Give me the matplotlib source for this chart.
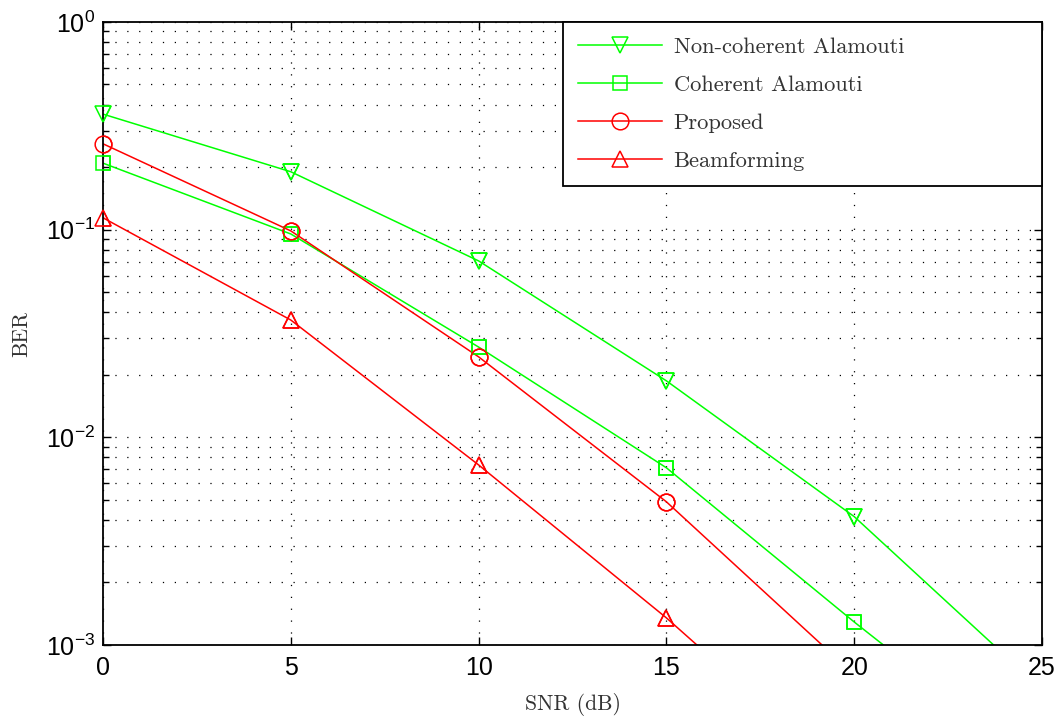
import numpy as np
import matplotlib
matplotlib.use("Agg")
import matplotlib.pyplot as plt
from matplotlib.ticker import LogLocator, LogFormatterMathtext, NullFormatter, FixedLocator

plt.rcParams['font.family'] = ['Liberation Sans', 'DejaVu Sans']
plt.rcParams['mathtext.fontset'] = 'custom'
plt.rcParams['mathtext.rm'] = 'Liberation Sans'
plt.rcParams['mathtext.it'] = 'Liberation Sans:italic'
plt.rcParams['mathtext.bf'] = 'Liberation Sans:bold'
plt.rcParams['axes.unicode_minus'] = False

# BER curves versus SNR
snr = [0, 5, 10, 15, 20, 25]
ber_noncoherent = [0.36, 0.19, 0.0707, 0.0187, 0.00415, 0.00061]
ber_coherent = [0.209, 0.0953, 0.0272, 0.00713, 0.00129, 0.00025]
snr_short = [0, 5, 10, 15, 20]
ber_proposed = [0.259, 0.0986, 0.0244, 0.00489, 0.00072]
ber_beamforming = [0.114, 0.0367, 0.00736, 0.00135, 0.000212]

labels = ["Non-coherent Alamouti", "Coherent Alamouti", "Proposed", "Beamforming"]
xticks = [0, 5, 10, 15, 20, 25]
ymin, ymax = 1e-3, 1

fig = plt.figure(figsize=(10.58, 7.16), dpi=100)
ax = fig.add_axes([0.0974, 0.0992, 0.8875, 0.8701])

green = (0, 1, 0)
red = (1, 0, 0)
series = [
    (snr, ber_noncoherent, green, 'v', 12),
    (snr, ber_coherent, green, 's', 10.5),
    (snr_short, ber_proposed, red, 'o', 12),
    (snr_short, ber_beamforming, red, '^', 12),
]
for (x, y, c, m, ms), lab in zip(series, labels):
    ax.plot(x, y, color=c, marker=m, markersize=ms, markerfacecolor='none',
            linewidth=1.1, markeredgewidth=1.1, label=lab)
    # markers inside the y-range stay whole at the axes edge
    xs = [a for a, b in zip(x, y) if ymin <= b <= ymax]
    ys = [b for b in y if ymin <= b <= ymax]
    ax.plot(xs, ys, linestyle='none', marker=m, markersize=ms, markerfacecolor='none',
            markeredgecolor=c, markeredgewidth=1.1, clip_on=False, zorder=3)

ax.set_yscale('log')
ax.set_xlim(0, 25)
ax.set_ylim(ymin, ymax)
ax.xaxis.set_major_locator(FixedLocator(xticks))
ax.yaxis.set_major_locator(LogLocator(base=10, numticks=10))
ax.yaxis.set_major_formatter(LogFormatterMathtext())
ax.yaxis.set_minor_locator(LogLocator(base=10, subs=np.arange(2, 10), numticks=20))
ax.yaxis.set_minor_formatter(NullFormatter())

dot = (0, (1, 8.5))
ax.grid(True, which='major', axis='both', linestyle=dot, color='black', linewidth=0.9)
ax.grid(True, which='minor', axis='y', linestyle=dot, color='black', linewidth=0.9)
ax.set_axisbelow(True)

ax.tick_params(which='both', direction='in', top=True, right=True, width=1.0)
ax.tick_params(which='major', length=6)
ax.tick_params(which='minor', length=4)
ax.tick_params(axis='x', labelsize=18, pad=8)
ax.tick_params(axis='y', labelsize=18, pad=6)
for s in ax.spines.values():
    s.set_linewidth(1.3)

ax.set_xlabel("SNR (dB)", fontfamily='cmr10', fontsize=15.6, color='#333333', labelpad=9)
ax.set_ylabel("BER", fontfamily='cmr10', fontsize=15.6, color='#333333', labelpad=10)

leg = ax.legend(loc='upper left', bbox_to_anchor=(0.49, 0.742, 0.51, 0.258),
                mode='expand', borderaxespad=0, fancybox=False, framealpha=1,
                edgecolor='black', handlelength=3.7, handletextpad=0.53,
                labelspacing=0.81, borderpad=0.68,
                prop={'family': 'cmr10', 'size': 16.2})
leg.get_frame().set_linewidth(1.3)
for t in leg.get_texts():
    t.set_color('#333333')

fig.savefig("out.png", dpi=100)
